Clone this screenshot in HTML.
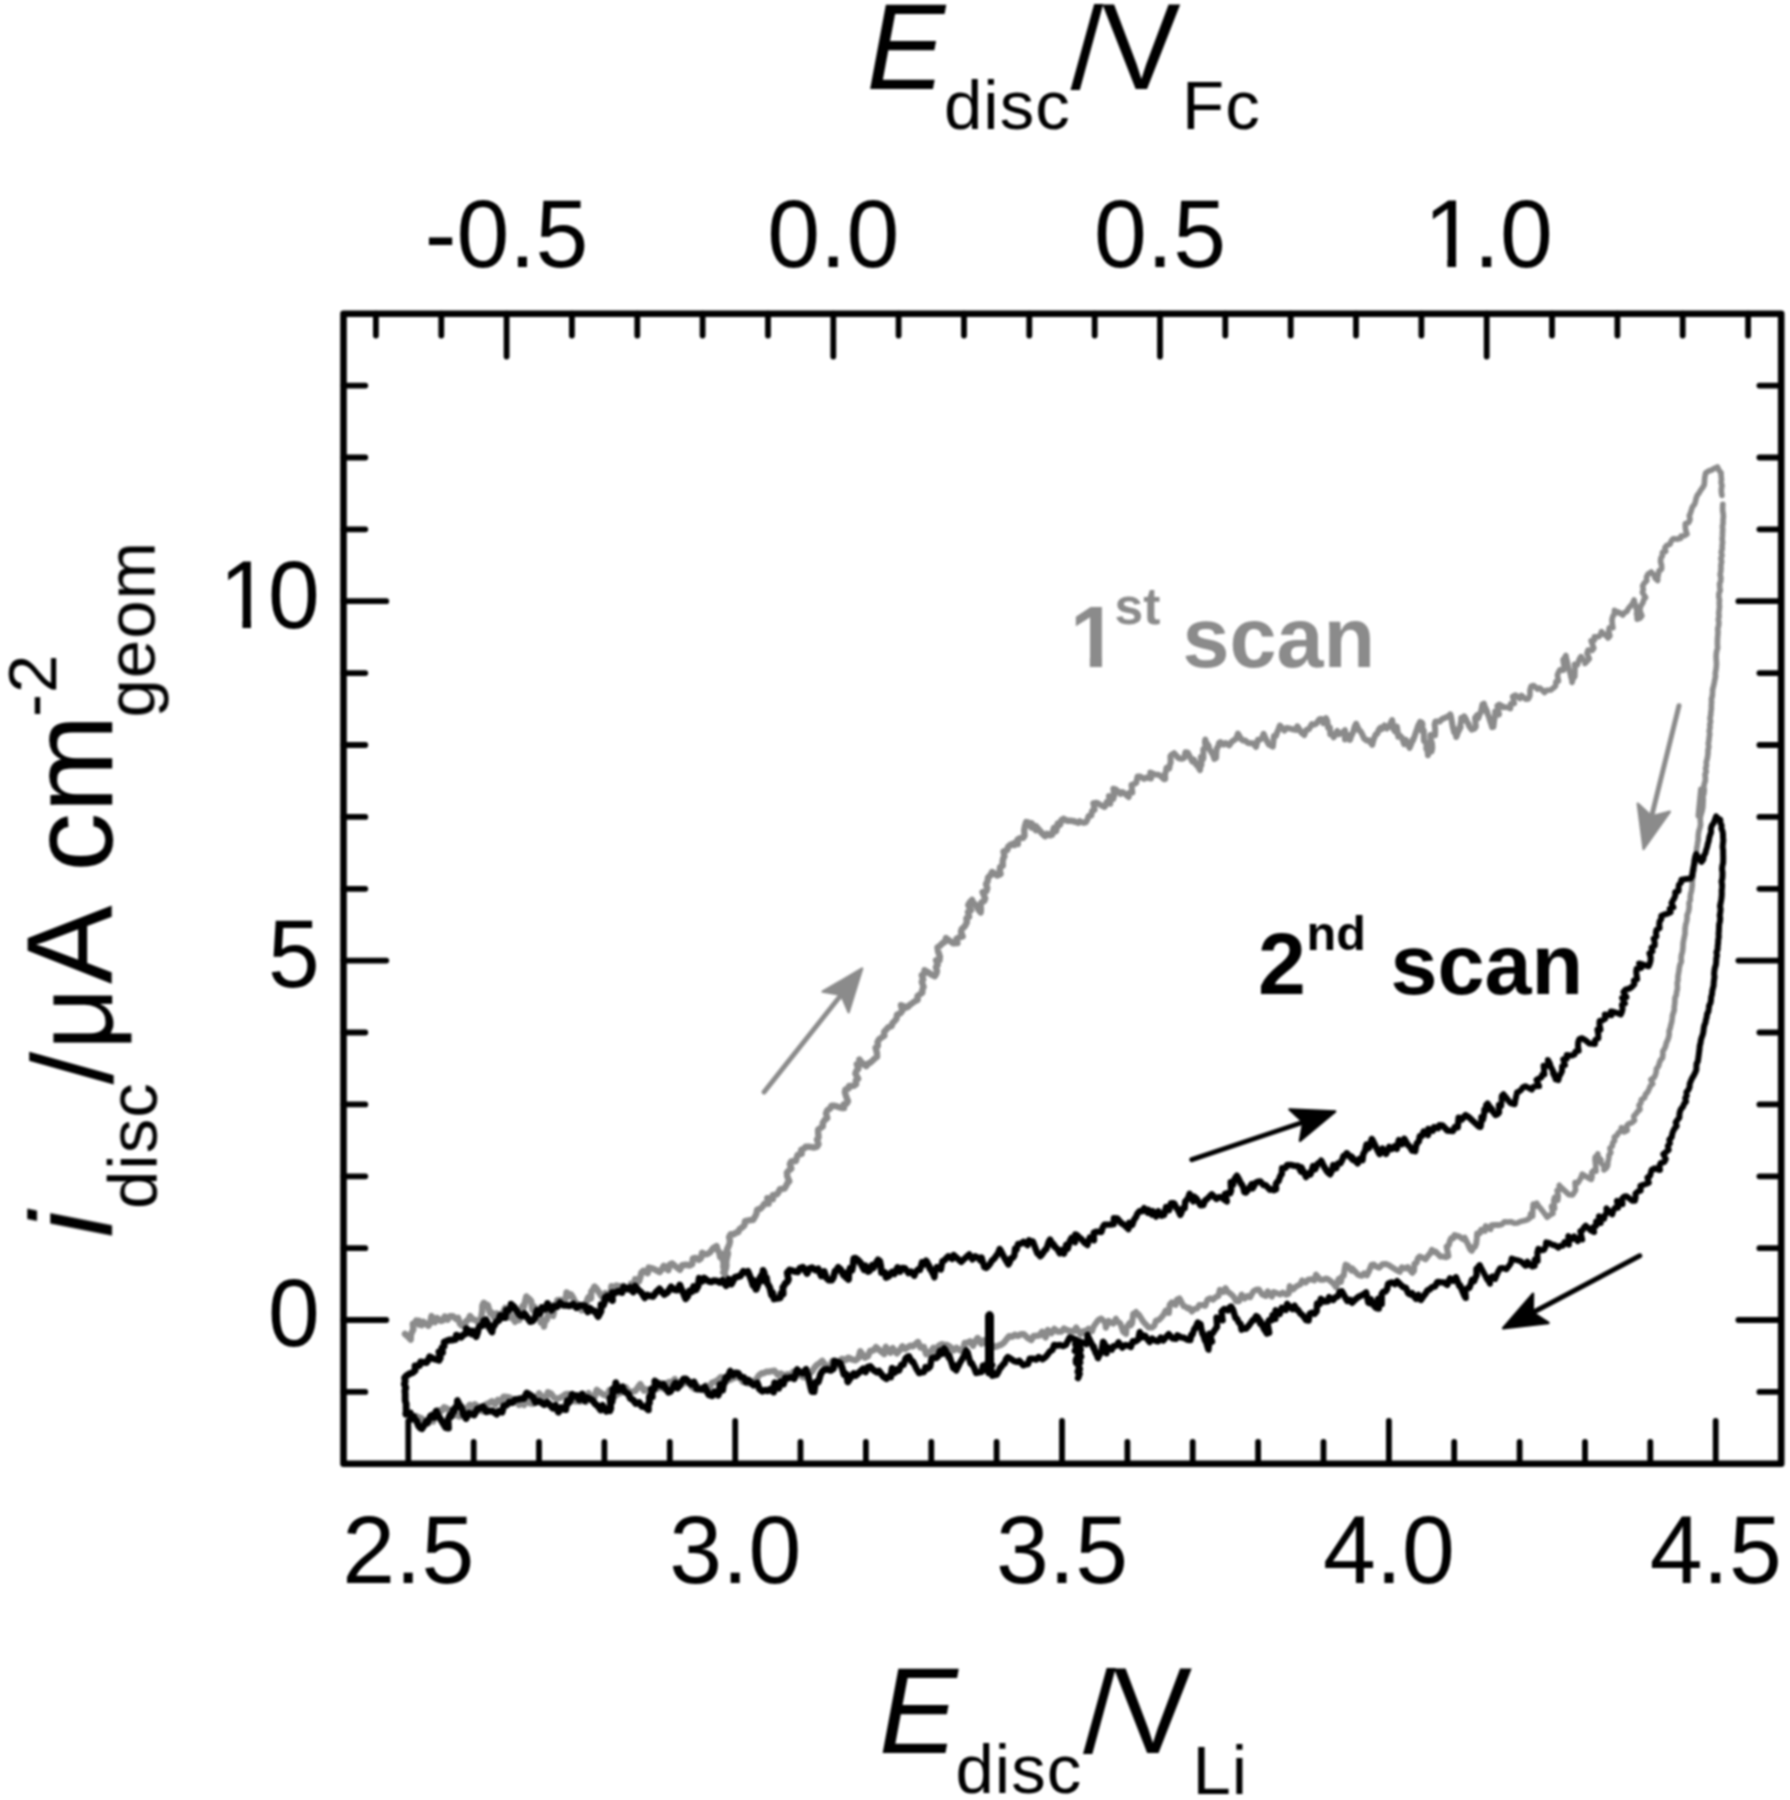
<!DOCTYPE html>
<html lang="en"><head><meta charset="utf-8"><title>Cyclic voltammogram</title>
<style>
html,body{margin:0;padding:0;background:#fff;}
body{width:1790px;height:1800px;overflow:hidden;}
svg{display:block;}
text{font-family:"Liberation Sans",Arial,Helvetica,sans-serif;fill:#000;}
.tk{font-size:95px;}
.tky{font-size:93px;}
.ti{font-size:118px;}
.sb{font-size:69px;letter-spacing:1px;}
.lb{font-size:86px;font-weight:bold;}
.lbs{font-size:50px;font-weight:bold;}
.it{font-style:italic;}
</style></head><body>
<svg width="1790" height="1800" viewBox="0 0 1790 1800">
<rect x="0" y="0" width="1790" height="1800" fill="#fff"/>
<defs><filter id="soft" x="0" y="0" width="1790" height="1800" filterUnits="userSpaceOnUse" color-interpolation-filters="sRGB"><feGaussianBlur stdDeviation="0.9"/></filter></defs>
<g id="all" filter="url(#soft)">
<defs><clipPath id="cr95" clipPathUnits="userSpaceOnUse"><path d="M-4.75 -76.00H58.90V-7.79H32.40V2.85H23.66V-7.79H-4.75Z"/></clipPath><clipPath id="cr93" clipPathUnits="userSpaceOnUse"><path d="M-4.65 -74.40H57.66V-7.63H31.71V2.79H23.16V-7.63H-4.65Z"/></clipPath><clipPath id="cb86" clipPathUnits="userSpaceOnUse"><path d="M-4.30 -68.80H53.32V-9.46H31.99V2.58H19.87V-9.46H-4.30Z"/></clipPath></defs>
<g id="curves">
<polyline points="405,1334 407.7,1336.4 410.7,1339.6 410.9,1334.7 412,1332.1 413.3,1329.6 412.8,1323.8 415,1323.1 416.2,1320.5 418.9,1324.3 419,1320.7 421.7,1325.2 423.2,1321.7 428.4,1325.7 430.2,1322.8 431.5,1316.1 435,1322.2 437,1318 438.8,1319.3 441,1321 442.9,1320.5 444.7,1316.5 447.7,1319.6 449.8,1316.1 452.9,1316.3 456.1,1318.9 458.1,1317.9 460,1323.7 462,1325.7 464.7,1326.4 466.1,1321.2 468.5,1319.6 470,1316 472.7,1319.4 474.6,1319.6 476.8,1321 478.9,1323.3 480.4,1320.1 481.4,1315.7 482.2,1311.7 482.4,1305.5 483.8,1302.8 485.9,1304.5 487.8,1305 490.1,1313.5 492,1312.7 493.9,1317.5 496.8,1313.5 499.2,1317 502,1314.5 505.2,1307.8 507.4,1309.5 509.6,1317.6 511.4,1315.7 515.1,1321.8 515.5,1319.2 517.4,1320.3 519.3,1320.1 520.4,1318.4 520.9,1311 522.2,1306.4 523.1,1305.5 523.5,1308 524.7,1303.2 526.3,1296.4 528.1,1298.2 529.5,1299.2 531.2,1301.1 532.5,1309.9 534.5,1306.8 536,1312.3 537.6,1314.3 539.4,1314.9 540.6,1322.4 542.8,1320 544,1326.6 545.1,1319.9 546.9,1319.8 547.7,1315.4 549.2,1313.2 553.1,1315.9 554,1311.8 553.8,1305.3 556.7,1305.5 557.3,1300.1 560.3,1299.9 563.9,1301.9 565.7,1298.5 566.6,1292.4 570.6,1296 570.9,1294.3 572.8,1297.2 575.9,1303.9 576.4,1302.9 577.9,1305.3 578.9,1306.2 581.5,1310.3 583.5,1309.8 584.5,1304 586,1304.2 587.4,1299.3 588.6,1297.1 591,1298.5 591.3,1291.7 593,1289.4 594.8,1287.2 594.5,1286.6 596.5,1288.6 601.5,1296.2 603,1298.1 603.7,1297 605.4,1293.1 608.4,1295.4 610.8,1294.8 611.5,1286.1 614.6,1290.2 616.4,1285.6 619.3,1286.3 621.7,1286.4 623.5,1285.7 627.1,1288.4 631.8,1291.1 631.1,1283.6 634.7,1284.8 635.2,1279.1 639,1281.3 640.3,1277.3 641.4,1272.6 643.5,1270.7 647.7,1273.2 648.7,1267.6 652.2,1268.3 656.1,1270.2 659.7,1272.1 661.9,1269.3 663.8,1265.8 668.3,1270.2 669.6,1264.8 672.1,1263.4 676,1266.8 679.9,1269.8 682.2,1265.1 685.9,1264.7 689.8,1265.5 692.2,1264.2 692.9,1258.4 695.7,1257.9 698.8,1259.9 700.9,1258.4 702.1,1252.7 705,1254.3 707.4,1254.1 710,1252.4 713.3,1248 716.6,1246.1 717.5,1249.7 719.2,1252.3 720.2,1257.1 723.6,1254 722.8,1260.1 723.4,1261.8 723.5,1267 723.3,1266.5 725.2,1275 723.2,1272.4 724.6,1271.3 725.8,1268.8 726.4,1265.6 726.2,1262.3 726.6,1259.3 727.3,1256.5 728,1253.6 726.8,1249.9 728.2,1247 729.4,1244.1 730,1241 729.1,1237 730.6,1234.3 734.2,1234.2 735.6,1232.9 738.3,1232.2 739.5,1229.1 742.4,1227.3 744.5,1225 745,1221.1 749,1220.3 753,1219.9 754.8,1217.1 756.4,1213.9 757.1,1209.8 760.6,1208.6 762.7,1206.4 764.4,1203.7 768.6,1203.6 767.3,1198.1 772.9,1199.1 772.9,1195.1 776.9,1194.4 778.7,1191.9 780,1189.1 784.5,1188.6 786,1186 787.3,1183.3 789.3,1181.2 787.2,1176.3 786.9,1172.6 788.9,1170.4 791.3,1168.6 789.9,1164 791.2,1161.4 795.9,1161 796.7,1157.8 797.7,1154.8 801.7,1153.9 801.2,1149.8 804.4,1148.3 805.7,1146.6 809.7,1146.8 814.4,1147.5 816.9,1146.7 818.5,1144.2 817,1139.6 818.6,1137.3 818.2,1133.4 818.1,1129.7 820.5,1128 822.8,1126.4 822.8,1122.7 824.6,1120.1 827.3,1118 826,1113.4 827.2,1110.4 830.1,1108.5 831.5,1105.7 833.8,1105.7 837.6,1106.7 841.6,1108 844,1108 843.7,1104.4 846.7,1103.6 848,1101.2 846.1,1096.4 844.9,1092.4 845.4,1089.5 848.7,1088.4 849.1,1085.9 854,1085.7 856.1,1084.1 855.8,1080.6 858.2,1078.7 855.4,1073.7 856.4,1070.9 858.3,1068.8 856.8,1064.3 861,1064.2 859.4,1059.6 860.5,1061 862.2,1063 866.3,1066.1 867.8,1063.9 870.6,1062.4 872.7,1060.5 874.7,1058.5 877.1,1056.7 876.9,1052.7 875.6,1047.7 877.9,1045.9 877.6,1042 879,1039.4 881.7,1037.5 884.4,1035.6 884.1,1032 886.2,1029.7 888.2,1027.3 891.6,1026 892.5,1023 894.8,1020.9 896.6,1018.5 897,1014.6 900.4,1013.2 902.4,1010.6 901,1005.2 906.7,1007.5 908.3,1006.7 909.2,1005.4 911.8,1003.5 914.5,1001.5 917.7,999.8 917.5,996 920.2,994.1 922.3,992.6 922.4,989.5 923.6,986.9 921.8,981.9 923.2,979.4 921.8,975.2 924.4,973.5 924.6,970.3 927,971.7 929.7,973.3 930.6,974.1 934.7,976.3 936.3,973.8 937,971 935.9,967.1 937.7,964.9 936.1,960.2 939.5,960.2 939.9,956.7 938.1,951.4 937.5,947.5 939.9,945.9 942.2,943.5 945.2,941.5 946,938 946.5,938.5 952.7,943 953,943.3 957.4,943 956.5,938.9 959.2,937.4 962.7,936.5 961,931.8 961.8,928.9 964.1,927.1 965.7,924.8 966.9,922.1 966.4,918.3 969.1,916.7 968,912 971,910.3 968.3,905 969.9,902.3 972.1,900 972.7,901.9 976.1,905.4 977.4,907.5 978.5,909.7 980.7,912.4 980.9,909 980.5,905.3 981.5,902.3 984.3,900.9 985.2,898.5 982.6,892.1 986.2,891.3 987.3,888.3 986,884 987.7,881.1 988,877.6 990.6,875.1 992,872 995.4,874.2 997.1,875.6 1000.6,874.1 999.8,870.3 1000.1,867.1 1002.8,865.7 1002.6,861.9 1003.1,858.8 1004.4,856.4 1003.5,851.4 1007.2,850.1 1008.2,846.8 1010.9,844.5 1014.4,845 1014.3,843.3 1017.9,843.9 1017.5,839.5 1020.2,838.1 1023.1,837.8 1024.5,835.9 1024.2,830.1 1025,826 1026.2,822.1 1028.1,822.5 1031.5,827.4 1031.5,823.1 1035.8,830.2 1036,826.2 1038.8,829.5 1041.6,832.9 1045,836.2 1047.1,833.8 1050,835.4 1052,834.8 1053.9,828 1056.1,831.2 1057.7,823.6 1060,824.7 1061.4,820.2 1063.5,818.8 1067,820.8 1069.5,820.7 1072,820.9 1075.1,821.7" fill="none" stroke="#8b8b8b" stroke-width="6.4" stroke-linejoin="round" stroke-linecap="round"/>
<polyline points="1075.1,821.7 1078.4,823 1079.8,821.1 1083.5,822.9 1085.9,822.3 1087.4,819.6 1088.6,816 1091.3,815.5 1092,811 1094.6,809.7 1093.3,803.3 1096.6,802.7 1100.8,805.1 1104.5,807 1105.6,805.4 1106.6,802 1110.3,803.7 1108.9,796 1113.3,798.9 1114.2,795.4 1113.3,788.7 1115.8,789.3 1120.5,794 1121.4,792 1123.4,792.4 1128.7,797.1 1129.3,792.7 1132.3,792.5 1131.5,784.8 1134.1,784 1136.2,782.8 1137.6,776.4 1140.2,776.6 1144.1,778.9 1146.8,777.5 1151,778.5 1150.3,772.6 1155,774.5 1158.6,774.8 1160.7,776 1164.1,779.2 1165.3,779 1165,774.1 1165.9,771.3 1166.5,767.7 1169.2,768.4 1169.8,765.1 1170.7,762.5 1170.4,756.1 1171.6,754.7 1174.1,753.2 1178.4,758 1181.6,758.8 1184.2,757.9 1185.5,752.3 1187.6,752.4 1192.4,761.7 1194,759.8 1196.2,764.7 1196.6,763.6 1198.4,767.2 1200,770.1 1200.4,766.5 1201.5,764.8 1200.9,756.9 1202.7,759.7 1203.4,758 1203.3,749.2 1204.1,748.6 1205.8,747.5 1204.9,742.5 1205.3,739.5 1205.8,741.8 1208.7,746 1207.7,746.4 1212.9,754.7 1213.8,757.2 1214.3,758.8 1216.1,757.8 1216.3,753 1216.8,748.2 1218.1,746.9 1219,743 1220.4,742.1 1223.6,744.6 1225.7,743 1229.3,745.4 1231.4,742 1233.8,740.3 1236.3,738.6 1237.9,733.6 1241.1,739 1243.1,740.5 1245.2,740.5 1247.5,742.7 1249.9,743.2 1253,743.2 1256,747 1257.9,739.7 1260,739.6 1262,738.2 1263.6,733.9 1265.1,737.3 1267.4,742.1 1268.8,744.5 1269.6,744.9 1272.8,746.6 1273.4,741.5 1273.9,736.1 1276,735.9 1277.2,732.3 1278.6,729.1 1279.9,725.5 1284.4,730.5 1286.8,727.9 1290.3,728.7 1293.7,729.6 1296.7,729.9 1297.3,726.2 1301.6,732.9 1304.2,735 1306.3,729.9 1309,729.1 1311.8,724.1 1314.2,724.7 1316.6,723.3 1319.4,719.3 1321.5,719 1323.4,723.2 1326,718.2 1327.3,721.1 1328.1,728 1329.9,727.6 1330.3,734.2 1332.4,734.2 1333.7,737.3 1337.3,731 1339.2,734.2 1341.8,733.1 1345,730.2 1345,739.6 1348.7,735.2 1350,739.9 1351.7,734.6 1352,734.6 1352.8,733 1355,725.7 1354.1,730.4 1356.1,723.7 1357.6,727 1359.3,730.5 1360.5,731.3 1361.8,733.5 1364.2,738.6 1366.8,740.5 1368.9,740.2 1372.2,744.9 1373.6,739.5 1375.7,734.4 1377.2,733.8 1379,729.3 1380.6,727.7 1381.9,729.1 1384.5,725.5 1386.8,728.5 1389.4,725.7 1392.1,720 1393.4,729.1 1395.1,731.5 1396.9,726.6 1398.3,736.8 1400,735.7 1402,737.8 1404.2,744.2 1405.8,739.8 1408,744.2 1409.6,747.9 1410.9,744.9 1412.6,739.7 1412.8,741 1414.4,736.7 1416,731.9 1418.5,724.8 1418.4,726 1420.1,721.8 1421.8,722.7 1422.5,724.1 1422.1,731 1423.8,730.6 1423.8,736.1 1423.9,740.8 1425.2,742 1426.5,743.4 1426.3,748.8 1427.5,750.5 1428,755.2 1428.8,751.3 1431.5,751.5 1432.3,747.9 1432,743.6 1430.4,738.3 1430.5,734.9 1435,735.3 1435.2,731.9 1435.1,728.3 1434.6,724.3 1435.5,721.4 1439.6,721.6 1441.8,719.3 1444.5,718 1447.4,716.7 1450.2,715.1 1450.3,714.3 1451.2,717.8 1452.8,727.2 1453.5,729.6 1454.1,732.3 1453.8,728 1455.2,731.1 1456.2,737 1457.2,734.7 1457.5,733.3 1460.6,727.1 1459.9,727.3 1461.2,720.5 1461.3,718 1463.6,720.1 1464.1,716.2 1466.2,719.5 1466.6,721.1 1468.7,724.3 1469,725.9 1471.6,729.6 1474.4,728.7 1475.8,726.8 1475.1,717.8 1477.2,715.1 1478.2,718.2 1479.8,713.7 1480.9,712.1 1482.5,704.4 1483.9,703.7 1484.1,705 1487.2,711.7 1486.5,711.3 1488.6,716.1 1490.9,721.2 1489.5,719.1 1491.1,723.7 1492.1,727.1 1493.4,726.8 1494.2,719.7 1495.1,716.3 1495.2,711.5 1499,714.5 1497.4,705.7 1499.3,704.5 1503.6,707.1" fill="none" stroke="#8b8b8b" stroke-width="6.0" stroke-linejoin="round" stroke-linecap="round"/>
<polyline points="1503.6,707.1 1506.6,707.2 1510.4,708.5 1510.6,703.9 1514.3,703.5 1512.6,696.4 1515.4,695 1519.9,698.5 1521.4,695.4 1525.7,699.2 1528.3,698.9 1529.9,695.8 1530,690.1 1531.1,686.2 1533.7,685.5 1537.3,689.1 1538.5,688 1539.9,688 1544.5,692.6 1546.7,690.3 1550.8,690 1553.3,688.1 1555.6,686 1555.9,681.8 1558.5,681 1557.4,675 1558.5,672.2 1560,669.8 1563.5,670.2 1564.2,667.4 1563,659.8 1564.7,657.7 1565.9,655.4 1566.3,657.8 1567.1,660.9 1567.7,663.8 1567.8,665.1 1569.5,671 1570.8,675.7 1570.8,676.5 1572.3,681.8 1572,682.3 1573.7,676.5 1573.2,678.4 1574.8,676.7 1575,668.7 1574.5,664.3 1577.4,664.7 1578.4,662 1579.4,659.1 1581,656.6 1582.6,659 1585.2,662 1585.1,663.5 1587.2,661.1 1589.3,658.9 1587,653.4 1588,650 1592.1,650.4 1593.8,648.3 1591.1,640.7 1594.3,640.3 1594.4,636.8 1599,636.6 1600.6,634.4 1601.5,631.7 1602.9,633.3 1607.1,636.6 1608,638 1609.9,635.9 1608.8,631.3 1609.2,627.9 1612.9,627.8 1612.2,623.3 1612,619.3 1612.8,616.4 1614.4,614 1614.5,610.4 1618.6,612.9 1618.9,612.2 1622.7,615 1624.7,612.5 1626.9,611.5 1628.2,608.7 1630.2,606.3 1632.2,604.1 1634.1,600 1634.6,602.4 1635.2,604.5 1636.4,609.1 1637.6,612.6 1636.5,613.2 1637.1,616.4 1637.2,619.2 1640,618.1 1641.9,615.8 1640,611.1 1640.1,607.9 1641.3,605.2 1642.9,602.8 1643.7,599.8 1645.6,597.4 1642.4,592.4 1643.3,589.4 1642.6,585.7 1644.3,583.1 1646.8,580.7 1646.5,577 1648,574.1 1651.2,572 1653.3,574.4 1656.2,577.1 1655,577.9 1657.7,580.6 1657.7,577.2 1658.4,574.1 1659,570.9 1661.6,569.1 1661.6,565.7 1660.5,561.3 1660.9,558.1 1662.4,555.7 1662.4,552.5 1665.7,551.3 1664.9,547.7 1666.6,545.6 1670.1,544.1 1671.2,541.1 1673.1,538.7 1677.9,539.1 1680.7,538.4 1681,536 1684.4,535.7 1687,534.1 1685.7,530.1 1685.3,526.7 1685.3,523.6 1688.8,522.5 1690,519.6 1689.3,515.6 1690.6,512.8 1691.5,509.7 1692.5,506.7 1694.6,504.2 1695.5,501.2 1696.2,498.1 1697.3,495.2 1699.3,492.7 1700.8,490 1702.7,487.6 1704.2,484.9 1704.5,481.9 1704.6,478.6 1705.1,475.6 1705.7,472.8 1708.8,471 1712.1,469.9 1714.7,468.2 1717.4,467 1719,470.4 1721.1,472.8 1721.1,476.2 1721.5,479.1 1721.1,482.8 1722,485.5 1721.3,489.2 1721.4,492.3 1721.9,495.4" fill="none" stroke="#8b8b8b" stroke-width="5.6" stroke-linejoin="round" stroke-linecap="round"/>
<polyline points="1722.8,504.3 1722.6,507.4 1722.6,510.6 1723.2,513.7 1723.4,516.9 1723,520 1723.1,523.1 1722.4,526.3 1722.7,529.4 1722.5,532.6 1722.4,535.9 1722.1,539.1 1722.6,542.4 1722.1,545.6 1722.2,548.8 1721.2,552 1722,555.3 1720.9,558.5 1721.7,561.8 1720.9,565 1721,568.2 1720.8,571.4 1720.1,574.5 1720.9,577.8 1720.7,580.9 1719.5,584.1 1719.8,587.3 1720.2,590.5 1718.9,593.6 1718.8,596.8 1719.5,600 1719.2,603.3 1719.5,606.7 1719.1,610 1718.7,613.2 1719.1,616.3 1718.3,619.5 1718.9,622.7 1718.6,625.8 1717.7,628.9 1718,632.1 1717.8,635.3 1717.5,638.4 1717.4,641.6 1717.4,644.7 1717.7,647.9 1716.7,651 1716.2,654.2 1716.1,657.3 1716.3,660.5 1716.5,663.7 1716.3,666.9 1715.9,670 1715.3,673.2 1715.5,676.5 1714.8,679.8 1714.2,683 1713.5,686.2 1712.6,689.5 1712.5,692.7 1712.3,696 1711.4,699.1 1711.6,702.4 1711.3,705.5 1711.4,708.7 1710.9,711.9 1710.7,715.1 1710,718.2 1710.6,721.5 1709.8,724.6 1710,727.8 1709.2,730.9 1709.7,734.2 1709.2,737.3 1708.9,740.5 1708.3,743.6 1708.8,746.9 1708,750 1708,753.1 1707.6,756.2 1707.1,759.2 1706.2,762.3 1706.5,765.4 1705.6,768.4 1706.2,771.6 1705,774.6 1705.4,777.7 1705.3,780.8 1704.3,783.8 1703.8,786.9 1704.3,790 1703.9,793.4 1703,796.6 1703.2,800 1703,803.4 1702.9,806.7 1702.3,810 1701.5,813 1700.6,815.9 1700.2,818.9 1700.4,822 1700.6,825.1 1699.8,828 1698.9,831 1698.4,833.9 1698.2,837 1698.2,840 1697.6,843 1697.2,846 1696.6,849 1696.7,852 1695.5,854.9 1695.1,857.9 1695.6,861.1 1695,864 1694,866.9 1694.2,870 1693.1,872.9 1693.2,876 1692.6,879 1692.2,882 1692.3,885 1691.9,888 1691.5,891 1690.6,894 1690.2,897 1690.3,900 1689,903 1689.2,906.2 1689,909.3 1688.2,912.3 1687,915.3 1687.1,918.4 1686.6,921.5 1685.7,924.5 1685.2,927.6 1685,930.7 1685,933.9 1684.3,936.9 1683.7,940 1683.1,943 1683,946.1 1682.8,949.3 1682.3,952.3 1681.4,955.3 1681.1,958.4 1681.4,961.6 1680,964.6 1679.3,967.6 1679,970.7 1678.4,973.8 1677.9,976.8 1678,980 1677.2,982.9 1677.4,986 1677.4,989.1 1676.6,992 1676.3,995 1675,997.9 1674.9,1001 1674.7,1004 1674.2,1007 1674.3,1010 1673.3,1013 1672.4,1015.9 1672.1,1019 1671.7,1022.1 1670.8,1025 1670.2,1028.1 1669.1,1030.9 1669.2,1034.2 1668.7,1037.2 1667.7,1040.1 1666.3,1042.9 1665.7,1045.9 1664.5,1048.8 1662.8,1051.4 1662.9,1054.7 1662.5,1057.8 1660.3,1060.3 1659.3,1063.2 1658.5,1066.2 1656.4,1068.7 1656.2,1071.9 1655.4,1074.9 1654,1077.7 1650.9,1079.7 1652.7,1083.8 1650.2,1086.1 1649.1,1089.1 1647.7,1092 1645.4,1094.5 1644.6,1097.7 1641.3,1099.6 1640.9,1102.9 1639,1105.3 1640,1109.5 1637.6,1111.5 1635.8,1114 1633.7,1116.2 1634.5,1120.4 1632.2,1122.5 1628.5,1123.8 1626.6,1126.3 1627.2,1130.4 1623.9,1131.9 1621.4,1127.6 1621,1130.9 1618.4,1132.7 1617,1135.3 1614.3,1137.1 1614.6,1140.7 1612.7,1142.9 1612.3,1146.2 1609.9,1148.2 1610.8,1152.7 1609,1155 1608.7,1158.6 1607.9,1161.8 1607.7,1165.5 1606.3,1168.1 1603.9,1169.9 1604.1,1168.2 1604,1166.1 1599.6,1161 1601,1160 1597.1,1155.4 1597.8,1153.8 1597.8,1157.5 1595.2,1157.1 1595,1159.4 1595.8,1167 1596,1171.2 1593.4,1170.5 1591.7,1172.5 1592.1,1176.6 1591.3,1179.5 1589.9,1178.8 1586.5,1176.6 1585.6,1176.4 1582.2,1174.2 1581.1,1177.5 1579.5,1180.3 1577.8,1183 1575,1182.6 1575.6,1190.3 1574,1192.8 1572.5,1195 1568.9,1194.6 1567.9,1193.9 1568.1,1193.9 1562.4,1188.6 1560.2,1186.5 1559.2,1185.3 1559.8,1189.5 1557.1,1190.5 1558.2,1195.9 1557.8,1200.2 1554.5,1197.5 1553.8,1200.7 1554.6,1208.6 1551.5,1206.3 1553,1213.5 1549.9,1215 1547.1,1217.3 1545.9,1215.5 1544.2,1213.2 1540,1207.7 1540.2,1208 1538.9,1206.5 1536.6,1203.2 1535.6,1206.2 1533.2,1204.3 1532.8,1209.1 1532.6,1216.1 1530.6,1213.8 1530,1217.9 1527.1,1219.9 1523.9,1220.8 1520.5,1221.4 1517.4,1222.9 1514.6,1223.3 1510.8,1221.7 1508.1,1222.1 1504.3,1221.8 1502,1224.4 1498.7,1225" fill="none" stroke="#8b8b8b" stroke-width="5.6" stroke-linejoin="round" stroke-linecap="round"/>
<polyline points="1498.7,1225 1495.1,1225.1 1491.6,1225.2 1490.5,1229.1 1485.6,1226.2 1484.8,1230.9 1481.1,1229.8 1479.7,1233.3 1477.2,1233.4 1476.8,1238.5 1476.2,1243.6 1474.9,1246.8 1473.1,1248.1 1471.7,1250.9 1469.8,1246.5 1470.4,1249.6 1469.3,1247.4 1468,1244.3 1466.7,1241.9 1464.7,1237.7 1462.9,1239.2 1459.4,1236.6 1456.4,1235.6 1454.5,1235 1453.2,1238.3 1451.4,1238 1450,1240.7 1448.7,1245.3 1446.6,1246.5 1448.4,1256.1 1446.4,1257.2 1443.1,1256.6 1441.7,1256.5 1440.5,1256.6 1435.6,1251.6 1434.7,1252.1 1431.9,1249.9 1430.2,1253.3 1427.9,1256 1425.6,1259.3 1421.9,1257.6 1419.6,1256.5 1417.8,1258.5 1416.5,1262.8 1414.4,1263.7 1414,1270.8 1412.3,1272.8 1407.7,1267.1 1405.1,1268.5 1401.8,1267.3 1399.8,1271.8 1396,1269.8 1392.3,1267.4 1388.6,1265 1385.4,1263.9 1382.4,1264.2 1379.2,1267.7 1376,1266.5 1373.8,1264.5 1371.5,1265 1369,1271.1 1366.9,1275.3 1364.2,1273.3 1362,1275.8 1360,1275.5 1358.1,1274.8 1355.4,1271.9 1352.3,1268.5 1351.5,1270.6 1347.9,1265.8 1345.6,1264.7 1344.7,1268.9 1343.7,1275.7 1342,1276.7 1340.9,1282 1338.7,1278.9 1337.3,1282.4 1336.3,1287.4 1333.4,1283.6 1330.8,1281.2 1328.3,1279.4 1326.1,1278.5 1323.4,1279.8 1320.3,1279.7 1316,1274.6 1314.3,1280.4 1311,1279.2 1308.1,1279.8 1305.5,1282.6 1302.1,1280.4 1300.3,1284.5 1297.8,1285.5 1295.4,1287.1 1293.2,1289.3 1289.7,1286.3 1288.7,1293.7 1286.2,1294.7 1282.7,1292.5 1280.2,1294.5 1277,1293.3 1273.7,1292 1271.9,1296.6 1267.7,1291.4 1265.7,1296 1262.3,1294.6 1258.8,1289.5 1256,1289.8 1253.2,1291.6 1250.1,1297.2 1247.4,1296 1244.6,1298.5 1241.6,1294.7 1239,1301.2 1236.1,1301.3 1233.8,1296.8 1231.8,1294.8 1229.8,1293.2 1228,1292.2 1225.5,1288.1 1223.5,1292 1219.8,1289.8 1218.4,1296 1215.6,1297.1 1213.1,1299.7 1210,1298.3 1207.4,1299.7 1205.3,1305.8 1202.4,1305 1199.3,1305 1197.2,1308.6 1194.2,1309 1191.9,1311.5 1189.1,1307.8 1187.6,1308.4 1185.3,1306.4 1183.7,1306.3 1179.5,1298.4 1176.9,1299.7 1175.6,1304.9 1171.7,1302.3 1169.7,1304.7 1168.9,1313 1165.7,1310.6 1163.6,1314.7 1161.2,1317.6 1158.7,1320 1155.9,1320.7 1154.4,1325.6 1151.9,1327.6 1148.6,1327.5 1146.6,1325.1 1145.2,1323.9 1143.4,1321.8 1138.7,1314.3 1138.4,1315.3 1136,1312 1134.6,1313.9 1133.2,1313.7 1132.1,1323.4 1130.6,1325.3 1130,1322.6 1128.3,1324.9 1126.6,1327.5 1126,1333.9 1124.6,1332.8 1123.3,1331.9 1120.3,1323.5 1119,1322.4 1117.6,1321.9 1115.9,1318.7 1113.6,1323.6 1111,1322.7 1108.6,1320.9 1105.9,1327.7 1105,1322 1104.1,1321.4 1101.2,1318.5 1098.4,1319.9 1096,1323.1 1093.8,1326.3 1092,1331.2 1088.6,1328.6 1086.1,1330.6 1083.1,1331.2 1080.6,1334.3 1076.2,1327.4 1074,1331.1" fill="none" stroke="#8b8b8b" stroke-width="6.0" stroke-linejoin="round" stroke-linecap="round"/>
<polyline points="1074,1331.1 1070.9,1331.1 1067.7,1330.5 1064,1328.6 1061.3,1331.6 1057.9,1331.6 1054.3,1329 1051.4,1333.1 1047.8,1330.2 1045.6,1337.4 1042.1,1331.8 1039.6,1335.4 1036.7,1335.7 1033.7,1335.9 1031.2,1340 1027.8,1338 1023.9,1334.2 1020.8,1334.3 1018,1335.9 1014.8,1334.7 1012.1,1336.7 1009.2,1336.2 1006.5,1339.3 1003.8,1342.9 1001,1344.7 998.2,1345.8 995.7,1346.7 993,1346.8 988.5,1338.3 987.3,1344.7 983.5,1340.3 981.4,1343.7 977.7,1338 975.4,1341.1 973,1345.7 970.1,1341.4 967.5,1342.6 964.7,1343 962.9,1351 960.1,1350.4 956.5,1347.8 953.9,1350.3 950.3,1347 947,1345 944,1344.9 941.5,1344.2 938.8,1345.8 935.9,1350.9 933.4,1347.8 930.6,1351.6 928,1353.5 926.2,1354.2 923.9,1346.9 922.1,1347.2 920.4,1347.5 918,1342 915.5,1344.2 912.9,1346.4 910.3,1345.7 907.7,1347.4 905.1,1348.9 902.4,1346.3 899.8,1350.2 896.9,1353.4 892.7,1348.2 890.4,1352.6 885.8,1347 884.2,1354.1 880.2,1350.8 876,1347.2 873.4,1350.4 870.2,1350.9 867.9,1356.1 864.9,1357.7 860.3,1351.4 858.4,1358.1 855.6,1360.3 852.1,1359.5 848.3,1357.7 845.6,1360.2 841.8,1358.9 839.7,1363.2 836.8,1365 832.3,1361.2 830.5,1366.1 827.8,1368.3 822.2,1360.9 819.6,1363.2 816.8,1364.9 814.3,1367.9 811.9,1371.8 809,1373.1 806.4,1375.9 803.4,1377.2 800,1375.3 796.4,1371.9 793.3,1371.6 790.6,1375.4 787.2,1374.1 784.3,1375.9 780.8,1373.4 777.9,1375 774.5,1370.8 772,1371.1 769.5,1371.7 766.7,1371.6 764.1,1373 761.3,1373.5 758.7,1375.5 756.2,1379.8 753.5,1381.1 750.7,1381 748.2,1383.4 745,1380.1 742.7,1381.9 738.7,1375.5 736.4,1377.3 734,1377.9 730.9,1379.4 727.8,1380.5 724.7,1383 720.9,1377.1 717.9,1380.2 715,1381.7 712,1382.7 709.1,1388.1 706,1385.6 703.2,1389.9 700.1,1388.8 697.3,1386.2 694.8,1388.9 692.2,1387.3 689.2,1382 686.7,1383.1 683.8,1380.3 681.4,1385.3 678.3,1386.3 674.8,1379.1 672,1382.4 669,1382 666,1383.8 663.3,1388.7 660.1,1383 657.6,1388.8 654.2,1386.9 652.3,1393.5 649.6,1392.7 646.3,1389.2 644,1390.6 640.3,1384.1 638.2,1387 635.4,1391 632.2,1391.6 629.1,1392 625.7,1387.4 622.8,1389.3 619.9,1393.3 616.8,1394.3 614,1397.3 609.4,1390.2 607.4,1395.8 603.8,1394.9 600,1392.3 596.7,1390 594.6,1397.1 591.7,1399.3 588.5,1393 585.9,1402 582.8,1396.8 580.1,1401.6 577.2,1401.2 574.4,1401.4 571.5,1398.8 568.3,1394 565.5,1394.2 562.8,1396.3 560.1,1397.8 557.2,1398.8 554.2,1397.8 550.9,1393.4 547.9,1392.3 545.1,1400.2 542,1396.7 539,1393.3 536.1,1401.7 533.2,1403.7 530.2,1403.4 526.7,1399.3 524.1,1405 520.9,1400.9 519,1404.9 515.3,1399.1 513.5,1402 509.9,1397.6 506.6,1396.9 503.6,1396.7 501.1,1401.6 497.9,1399.9 495.3,1404.4 492,1401.3 489,1403.2 485.9,1404.2 484.4,1411.6 481.7,1411.1 478,1406.7 474.9,1404.3 473.2,1408.9 469.8,1404.8 467.2,1407.8 465.1,1413.5 462.2,1414.4 459.6,1416.6 456.2,1415.2 452.3,1409.6 450,1410.9 446.9,1408.5 444,1407.3 442.1,1410.5 439.3,1410.3 437.1,1412.7 434.7,1414.3 433.1,1421.5 430,1416.6 428.2,1423.5 425.3,1421.7 422.1,1418.8 419.1,1417.5 416,1416.1 414,1418" fill="none" stroke="#8b8b8b" stroke-width="6.4" stroke-linejoin="round" stroke-linecap="round"/>
<line x1="1700.6" y1="789" x2="1698" y2="816" stroke="#8b8b8b" stroke-width="5" stroke-linecap="round"/>
<polyline points="406,1414 406.2,1410.7 406.1,1407.3 406.2,1404 405.2,1400.6 405.2,1397.3 405.2,1393.9 404.9,1390.7 405.8,1387.8 404.3,1384.1 405.2,1381.2 404.6,1377.8 406.6,1375.6 409.4,1373.8 412.8,1372.6 415.2,1370.4 415,1366 419.5,1365.5 420.6,1361.9 426.3,1362.7 428.2,1360 429.7,1356.8 433.5,1358.8 436.1,1359.4 439,1360.4 440.3,1357.9 438.9,1351.9 442.6,1352.5 441.9,1347.6 444.2,1346.3 444.1,1342.2 446.7,1341 449.5,1340 452.7,1340 455.6,1339.4 456.4,1335.1 461.3,1337.3 463.2,1334.8 466,1333.7 466.4,1328.7 468.7,1330.4 471.7,1334 472.6,1331 476.2,1336.7 477.5,1332.9 478.6,1328 480.3,1325.6 482.7,1325.5 483.7,1320.6 485.9,1319.8 487.9,1323.8 488.6,1325.3 488.8,1326.7 492,1332 492.6,1327.8 494.5,1325 496.3,1321.9 498.8,1320.5 500.2,1315.4 502.9,1317.7 505.1,1317.7 506.3,1310.2 508.7,1310.4 510.7,1307.7 511.1,1304.2 513.9,1306.7 518.4,1313.7 520.9,1315.8 522.8,1315.9 524.4,1313.6 527.4,1317.5 530.2,1321.6 532.7,1321 534.9,1317.9 537.1,1310.2 539.9,1313.5 541.9,1307.5 545.2,1309.2 547.5,1303.5 551.6,1310.1 554.1,1306.2 557.3,1306.6 559.9,1302.7 563.4,1305.4 566.6,1305.4 569.9,1305.8 573.4,1304.1 576.5,1307.7 580,1305.3 582.6,1305.6 585,1305.9 587.8,1311.9 589.9,1308.3 592.5,1310.8 594.7,1310.9 598.1,1316.6 599.6,1313.9 601,1311.2 601,1304.6 603.5,1305.2 604.6,1302 605.1,1297.5 607.1,1296.1 612.5,1300.5 612.2,1292.7 615.5,1292.8 618.3,1291.2 622,1292.5 623.6,1287 627.2,1289 629.9,1287.4 633.3,1292 635.2,1286 638.4,1290 641.4,1292.5 644.7,1297.8 647.2,1295 650,1295.9 653,1296.5 656.1,1292.2 659.5,1288.9 662,1292 664.3,1294.5 667.7,1292.1 671.1,1286.9 674,1289.6 677.3,1290 679.8,1285 681.4,1289.5 682.1,1290.4 683,1292.3 684.3,1295.4 685.7,1298.8 687.7,1296.2 689.4,1291 691.9,1291.6 693.7,1286.4 696.1,1289.8 698.1,1285.9 699.2,1278.3 702.3,1281.1 704.1,1278 707.9,1280.9 711.2,1281.9 713.5,1280.7 716.4,1280.8 719.8,1282.5 722.3,1280.4 726.2,1285.6 728.8,1279.2 731.5,1284 734.9,1277.3 737.7,1276.6 740.4,1275.9 743.3,1271.3 745.9,1272.4 747.9,1271.4 749.2,1274.5 751.7,1281 752.9,1285.1 752.9,1280 754.7,1287.3 756.3,1288.4 756.2,1289.4 758.7,1282.7 757.3,1283.4 759.8,1278.2 762.8,1273.1 763.1,1270.5 764.3,1273.1 763.7,1280.7 766.4,1277.6 767.3,1283.4 768.6,1285.3 769.9,1288 771.5,1294.9 772.6,1292.6 774,1299 777,1298.5 780.2,1297.9 781,1293.4 783.2,1293.8 782.8,1287.3 784.2,1285.6 785.4,1283.1 787.3,1282 788.5,1279.6 787.2,1272.7 789.6,1269.9 794.1,1271.3 797.9,1272 800,1268.1 802.9,1267.1 807.2,1273.5 809.2,1268.7 812.1,1267.7 815.6,1270.1 818.2,1268.9 821.4,1276 824.2,1271.5 826.4,1277.9 828.7,1280.1 831.7,1280.2 833.3,1277.7 835,1271.3 836.6,1270.1 838.3,1267.4 840.1,1270.2 840.5,1269.2 843.6,1275.3 843.3,1272.5 845.7,1277.2 848.6,1279.5 848.8,1272.6 850.1,1268.3 851.9,1270.2 853.1,1264.7 853.8,1258.3 855.4,1258.1 857.8,1260 860.4,1262.6 864.1,1269.7 865.4,1265.8 867.9,1271.5 869.4,1271 872.2,1265.3 873,1268.1 875.4,1264.2 878,1259.9 879.7,1261 880.7,1265.7 881.5,1272.5 883.3,1272.3 884.9,1272.3 886.1,1277.5 888.8,1276.2 891.9,1272.1 894.3,1273.8 897.6,1267.5 900,1271.4" fill="none" stroke="#000" stroke-width="6.8" stroke-linejoin="round" stroke-linecap="round"/>
<polyline points="900,1271.4 902.4,1268 905.1,1268.2 908.5,1273.2 910.9,1271.5 914.3,1275.7 916,1271.6 918,1269.5 920,1269.9 922,1262.2 924.1,1264.5 926.1,1260.6 927.2,1262.1 929.9,1269.1 928.4,1264.4 932.6,1273.4 931.6,1270.5 934.4,1277.4 935.1,1270.5 936.9,1267 939.1,1268.3 940.9,1269.5 942.4,1261 944.3,1260.5 946.1,1258.5 948.3,1256.2 952.1,1258.9 953.7,1255 957.9,1258.9 961.2,1261.9 963.9,1259.3 966.6,1256.8 969.3,1254.5 972.5,1259.4 975.2,1256.2 978.2,1257.8 980.4,1260.6 981.5,1257.5 984.3,1267.1 986.1,1267.9 987.9,1266.5 989.7,1264.3 991.9,1260.7 994,1258.8 996.1,1256 998.1,1253.1 999.7,1249 1000.4,1250 1004.1,1257.2 1005.2,1259 1004.6,1258.2 1008.3,1264.5 1009.8,1262 1010.9,1258.4 1013,1257.7 1014.3,1255.8 1015.1,1248.7 1016.6,1249.6 1018,1244 1020.8,1243.8 1023.5,1241.7 1027.5,1245.1 1029.1,1240.3 1032.6,1241.9 1032.9,1241.7 1035.1,1247.4 1037,1252.4 1037.5,1253.6 1038.7,1253.9 1040.2,1256.2 1041.5,1255.2 1043.1,1252.2 1043.3,1252.7 1044.8,1249.9 1046.3,1249.3 1048.6,1242.1 1050,1239.6 1051.8,1242.9 1054.2,1246.6 1053.3,1244.1 1055.5,1247.3 1057.2,1248.9 1059.8,1253.3 1061.7,1250 1064.1,1253.6 1066.2,1244.7 1067.7,1248.8 1069.9,1240.9 1071.6,1237.9 1075.1,1242.2 1075.4,1234.4 1077,1235.2 1079.3,1237.5 1081.4,1239.1 1085.1,1243.3 1087.4,1245 1088.5,1241.1 1089.8,1237.6 1094,1240.2 1093.7,1232.7 1096.2,1231.6 1098.8,1231.9 1101.4,1232 1102.6,1227.7 1104.3,1224.8 1107.6,1224.6 1110.7,1224.5 1113.7,1224.1 1113.9,1218.3 1117.2,1218.4 1121,1222.9 1123.1,1224.1 1125.6,1226.2 1128.4,1229.1 1129.3,1222.8 1132.3,1224.8 1133.9,1219.9 1135.9,1217.3 1137.6,1213.3 1139.6,1211.1 1142.2,1211.2 1144.1,1208.2 1147.8,1212.7 1148,1209.6 1151.9,1214.5 1152.6,1211.1 1156.1,1216.6 1158.3,1211.3 1161.4,1215.7 1164.1,1214.9 1166.1,1207 1169.1,1210.1 1170.9,1203.3 1173.7,1203.2 1174.2,1203.5 1176.8,1208.5 1177.2,1208.4 1180.3,1214.8 1181.6,1212.1 1182.7,1208.2 1184.7,1208.1 1185.2,1201.4 1186.9,1199.7 1188.4,1197.4 1189.6,1193.9 1193.3,1201.3 1194.1,1196.6 1196.5,1198.7 1200.4,1205.2 1203.3,1205.1 1204.9,1200.6 1207.3,1198.9 1209.5,1196.6 1211.8,1194.4 1216.5,1199 1218.7,1197.3 1221.3,1197.3 1226.9,1201.3 1225.1,1193.9 1227.7,1193.2 1230.2,1193.2 1231.1,1190.4 1230.7,1182.3 1233.1,1184.7 1233.9,1180.3 1235.3,1177.9 1236.8,1175.7 1238.6,1178.7 1239.2,1179.9 1241,1183.9 1241.7,1184.2 1243.2,1187.3 1244.4,1192.2 1245.9,1192.5 1248.7,1189 1251.8,1184 1252.6,1188.4 1255.8,1182.6 1258,1181.7 1260.4,1181.5 1263.5,1185.1 1265.7,1185.2 1270,1189.7 1271.7,1189.3 1274.1,1190.2 1276.1,1189.3 1275.8,1184.1 1277.1,1182 1278.7,1181 1279.5,1178.1 1280.6,1175.5 1281.8,1174 1282.1,1168.2 1285.4,1168 1287.2,1165 1290.6,1164.9 1294.6,1165.9 1298,1166 1301.1,1171.7 1301.2,1167.1 1303.9,1172.2 1306,1177.1 1308.4,1173.3 1310.4,1174.4 1313.1,1166 1315.3,1169.1 1317.6,1163.7 1320,1162.3 1321.2,1160.7 1323.7,1166 1327.1,1171.5 1328.8,1173.3 1330.1,1174.3 1331.8,1170.9 1333.2,1165.1 1336.2,1168.2 1337.9,1163.5 1340.3,1163.4 1342.2,1159.9 1343.7,1155.7 1346.7,1155.4 1346.8,1153.2 1352.9,1159.9 1351.3,1156.4 1357.6,1163.4 1358.2,1162.3 1359.6,1158.8 1362.5,1160.1 1363.3,1153.9 1365,1151.1 1366.5,1144.4 1368.9,1148.1 1370.5,1143.9 1371.7,1138.9 1372.4,1139.8 1374.9,1145 1378.2,1151.7 1379.5,1154.1 1380,1153.9 1382.4,1148.5 1386.1,1153.9 1389.3,1146.9 1391.9,1149 1394.4,1146.4 1396.8,1148.9 1398.9,1140.1 1402.2,1144.1 1404.3,1140.9 1404.4,1138.8 1408.2,1145.5 1409.3,1145.9 1412.3,1150.7 1415.2,1151.2 1415.9,1146.6 1417,1143 1418.9,1141.5 1419.8,1136.2 1422,1135.9 1423.7,1131.5 1428,1135 1428.4,1128.9 1432.8,1130.8 1434,1127.2 1438.1,1128.2 1439.4,1125.3 1442.5,1125.4 1447.3,1130.5 1450.2,1130.9 1453,1131 1454.9,1126.9 1457.7,1127.3 1458.7,1117.6 1461.9,1119.4 1464.2,1116.6 1465.7,1115.1 1468.1,1116.6 1471,1119.2 1474.8,1122.8 1478.5,1126.3 1480.4,1126.8" fill="none" stroke="#000" stroke-width="6.4" stroke-linejoin="round" stroke-linecap="round"/>
<polyline points="1480.4,1126.8 1481.2,1123.8 1481.3,1116.9 1483.1,1119.7 1484,1115.1 1484.3,1109.5 1486.4,1110.4 1486,1105 1487.6,1103.4 1489.4,1106.2 1492.4,1109.7 1490.9,1109.4 1494.1,1113.3 1495.5,1115.1 1497.6,1114.4 1499.2,1112.5 1498.8,1105.1 1501.2,1105.8 1501.6,1100.7 1501.8,1095.9 1503.5,1094.3 1506.2,1097.7 1509.4,1101.8 1510.5,1103.1 1510.9,1103.4 1514.7,1104.2 1515.3,1100.2 1516.2,1096.5 1517,1092.5 1519.3,1091.3 1521.4,1089.7 1523,1087.2 1525.3,1086.2 1531.8,1089.6 1532.7,1087.2 1535,1086.2 1539.1,1086.1 1536.5,1079.8 1539,1078.4 1541.3,1077.4 1542.3,1074.6 1544.4,1074.4 1543.6,1065.7 1545.8,1066.1 1548.2,1065.5 1547.9,1059.9 1550.1,1064.2 1550.1,1065.5 1552.4,1069.9 1554.6,1074.3 1553,1073.2 1555.8,1078.8 1555.7,1079.4 1558.4,1080.1 1559.1,1076.4 1560.5,1074.3 1562,1071.2 1562.1,1066.3 1565,1065.1 1563.2,1059.3 1566.8,1058.7 1566.8,1054.9 1571.6,1055.6 1574.5,1054.5 1575.5,1051.4 1578.7,1050.9 1578,1046 1578.2,1042 1579.3,1039.2 1582.2,1038.2 1584.1,1039.5 1585.2,1040 1589.5,1043.6 1594.9,1044 1595.2,1039.9 1598.4,1038.4 1598.3,1034.6 1597.4,1029.5 1600.5,1029.7 1599.4,1024.2 1599.6,1021 1602.3,1020.3 1605.3,1018.6 1604.8,1014.4 1611.4,1015.3 1611,1011.4 1613.3,1011.8 1616.6,1012.8 1620.7,1014.5 1621.9,1011.9 1622.6,1008.9 1621.9,1004.7 1624.9,1003.4 1622.1,997.9 1626.5,997.3 1623.4,991.9 1625.4,989.7 1629.6,988.5 1632.3,986.5 1634.4,984.2 1633.8,980.5 1637.2,979.2 1636.6,975.5 1636.2,971.8 1636.6,968.7 1641.2,968.1 1639.1,963.4 1641.6,964.1 1644.8,965.1 1648.6,966.3 1649.8,963.5 1650.6,960.5 1650.7,957.2 1649.4,953.3 1652.5,951.4 1651.5,947.5 1654.7,945.7 1654.7,942.3 1653.6,938.6 1656.4,936.5 1655.9,933 1656.4,929.9 1659.6,928.1 1659.2,924.6 1659.6,921.5 1661.3,919 1661.3,915.7 1664.4,914.5 1667.8,913.6 1670.6,912.3 1669.7,908.7 1673.4,907.3 1671.5,903.2 1672.8,900.6 1674.3,898.2 1675.3,895.5 1675.2,892.1 1678.6,891.1 1678.6,887.8 1678.9,884.8 1681,882.7 1681.4,879.7 1686,879 1690.6,878.5 1692,876 1692.5,872.8 1693,869.6 1693.6,866.5 1694.2,863.4 1694.5,860.1 1695.2,857 1696.2,854.1 1698,856.7 1699.5,859.1 1701.6,861.8 1703.4,859.2 1703.8,855.9 1705.4,853.2 1706.1,850.1 1707.1,847.1 1707.8,843.9 1708.7,841.1 1709.2,837.9 1710,835 1711.1,832.3 1710.9,828.7 1711.7,825.8 1713.7,823 1714.9,819.8 1716.1,816.4 1717.9,818.4 1720.3,819.6 1720.4,823 1721.6,825.4 1721.4,828.6 1722.5,831.2 1723,834 1723,837.3 1723.3,840.4 1722.9,843.8 1722.6,847 1723.1,850.2 1723.1,853.5 1723.2,856.7 1723.2,860 1723.1,863.1 1722.3,866.1 1722,869.2 1722.5,872.3 1722.5,875.4 1722.3,878.5 1721.5,881.5 1722.1,884.6 1722,887.7 1721.7,890.8 1721.8,893.9 1721.6,896.9 1721.2,900 1720.6,903.1 1720,906.1 1720.6,909.2 1720.3,912.3 1719.7,915.4 1720.2,918.5 1719.9,921.6 1719.1,924.6 1719,927.7 1718.9,930.8 1718.6,933.9 1718.8,937 1718.2,940 1718.1,943.1 1717.7,946.2 1717.6,949.3 1716.4,952.3 1717,955.4 1716.3,958.5 1716.2,961.6 1715.9,964.7 1714.9,967.7 1714.4,970.7 1714.1,973.8 1714.5,976.9 1714,980 1713.7,982.9 1713.6,985.8 1712.8,988.6 1712.2,991.4 1712,994.3 1711.1,997.1 1711,1000 1710.5,1002.9 1709.1,1005.6 1708.8,1008.6 1708.4,1011.5 1707,1014.2 1706.7,1017.1 1705.9,1020 1705.4,1022.9 1704.2,1025.7 1703.7,1028.6 1703.4,1031.6 1702.8,1034.5 1701.7,1037.3 1700.9,1040.1 1700.5,1043.1 1699.7,1045.9 1699.5,1049 1699.1,1052 1698.7,1055.1 1698.3,1058.1 1697.9,1061.1 1696.5,1063.9 1696.4,1067 1696.3,1070.1 1695.1,1072.9 1693.7,1075.6 1692,1078.3 1690.8,1081.1 1689.7,1083.9 1689.6,1087 1688.4,1089.8 1686.4,1092.2 1686.8,1095.5 1685.3,1098.1 1686,1101.6 1684,1104 1683,1106.7 1681,1109 1679.9,1111.6 1679.4,1114.4 1679.4,1117.5 1677.5,1119.8 1675.7,1122.4 1676.7,1126 1674.6,1128.5 1673.1,1131.2 1672.2,1134.1 1671.7,1137.2 1669.3,1139.7 1669.9,1143.4 1667.8,1145.9 1668.7,1149.9 1666.1,1152 1663.3,1154.1 1665.8,1159 1664.5,1161.8 1660.5,1163.2 1659.4,1166.1 1660,1170 1657.8,1169.5 1654.4,1168.3 1651.6,1169.9 1650.8,1172.9 1650,1175.9 1647.4,1177.5 1648.8,1182.7 1645.9,1184 1643.1,1184.9 1640.4,1185.9 1640.7,1190.7 1637.6,1191.7 1635.5,1193.5 1635.6,1197.6 1634.9,1200.8 1632.5,1200.8 1626.6,1196.3 1624.3,1196.5 1622.2,1198.4 1622.5,1204.2 1616.9,1200.8 1618.1,1207.7 1614.8,1208 1613.2,1210.7 1612.3,1214.4 1611.4,1213.6 1607.7,1209.7 1606.4,1208.4 1606.7,1212.9 1604.8,1215.3 1604.1,1218.8 1598.9,1216.3 1600.7,1223.1 1596.1,1221.5 1596.1,1226 1593.2,1227 1594.1,1232.1 1592.5,1231.3 1590.6,1230.3 1585.7,1225.6 1583.8,1227.5 1582.6,1230.2 1580.3,1231.3 1582.2,1239.6 1578.9,1238.2 1577.7,1241.2 1574.1,1236.3 1572.3,1239 1568.3,1236.2 1568.9,1244.7 1564.5,1242.1 1563,1245.7 1560,1245.9 1558.4,1247.6 1554.8,1245.3 1552.1,1244.7 1548.9,1243 1546.2,1242.3 1545.6,1246.6 1544.1,1249.8 1541.4,1250.2 1538.3,1248.8 1537.3,1252.5 1537.7,1260.8 1534.7,1259.6 1534.8,1265.9 1532.3,1266.6 1527.3,1261.7 1527.3,1265.1 1525.5,1265.8 1521.1,1261.6 1518.3,1260.4 1516,1260 1511.7,1258.5 1510.8,1263.3 1508.7,1266.2 1506.4,1269.3 1503,1267.9 1500.1,1268.2 1498,1272 1496.6,1275.3 1495.1,1279 1492.5,1276.3 1490.5,1277.5 1489.9,1283.7 1488,1279.8 1487.7,1280.2 1486.9,1278.9 1485.9,1276.9 1482.4,1270.3 1479.8,1265.7" fill="none" stroke="#000" stroke-width="6.0" stroke-linejoin="round" stroke-linecap="round"/>
<polyline points="1479.8,1265.7 1479.6,1265.3 1478.1,1267.6 1476.5,1268.8 1476.6,1275.1 1475.3,1277.8 1474.2,1281 1472,1279.8 1470.8,1283.7 1469.4,1287.8 1467.2,1288.4 1465.1,1290.2 1465.7,1297.8 1464.2,1295.3 1462.1,1290.3 1460.1,1285.2 1459.4,1286.2 1457.6,1281.5 1455.9,1277.3 1453.2,1280.8 1449.9,1278.5 1447.3,1284.9 1444,1282.4 1440.8,1282.3 1437.5,1281.9 1435,1286.4 1431.9,1287.3 1429.9,1289.3 1427.4,1290.4 1425.4,1293.8 1423.2,1296.6 1420.9,1299.9 1418.3,1294.9 1416,1298.8 1414,1296.3 1412,1293 1410.1,1294.4 1408.2,1293.2 1406,1287.9 1403.2,1287.1 1400.2,1284.3 1397.1,1281.2 1395,1284.1 1392.1,1282.5 1390,1282.9 1388.1,1283.9 1387.1,1289.2 1385.4,1291.6 1383.3,1291.7 1381.7,1294 1381.7,1304 1378,1298.9 1378.8,1308.6 1375.9,1307.8 1374,1305.7 1370.9,1299.4 1370.4,1303.3 1368.3,1302.7 1366.1,1292.3 1364,1294.2 1361.2,1295.6 1358.3,1297 1355.3,1299.5 1352.1,1302.8 1350,1299.8 1347.4,1301 1345,1297 1341.8,1291.2 1339.5,1292 1337.9,1296.5 1335.2,1297.3 1333.2,1300 1329,1297.2 1327.8,1301.4 1324.6,1301.5 1320.8,1298.9 1319.8,1304 1317,1303.5 1316.7,1311.2 1314.6,1313.9 1311.9,1312.7 1309.6,1313.9 1308.6,1320.5 1306,1320 1303.9,1316.8 1302,1314.7 1300.4,1313.6 1298.1,1309.8 1296.9,1309.9 1294.5,1305.7 1292.1,1309 1287.1,1304 1285.7,1310 1281.7,1307.9 1279.7,1313.9 1275.6,1310.4 1275.4,1318.9 1272.6,1315.1 1271.6,1320.3 1268.9,1320.3 1267.5,1323.4 1269.2,1332.7 1266.8,1333.6 1265.4,1331 1264.4,1329.8 1260.2,1320.7 1260.2,1323.8 1258,1317.2 1256.1,1316.1 1253.8,1320.3 1252.6,1320.2 1249.3,1325 1245.9,1328.8 1244.8,1328.2 1241.6,1329.6 1240.6,1324 1238.7,1322.5 1237,1318.6 1235.5,1318 1232.9,1309.5 1231,1306.5 1229.8,1307.2 1227.7,1310.4 1224.3,1308.9 1221.5,1311.6 1222.6,1320.3 1216.5,1317.6 1216.9,1323.1 1217,1327.1 1215.4,1329.1 1213.9,1331.3 1212.5,1333.6 1209.5,1333.8 1212.1,1341.7 1209.3,1341.1 1208.9,1345.1 1208.4,1349.6 1205.8,1341 1204.9,1338.7 1205,1340.6 1202.9,1333.3 1202.5,1334 1201.3,1329.1 1200.5,1324 1199.3,1323.7 1197.8,1322.6 1195.4,1328.3 1195.3,1327.6 1194.1,1329.3 1192.5,1334.7 1191.3,1334.7 1190.3,1340.1 1187.5,1339.8 1184,1337.7 1181.1,1337.4 1177.3,1335.4 1175.8,1338.9 1172.5,1338.3 1168.7,1334.2 1166.1,1336.9 1163.3,1340.4 1160.7,1337.6 1158,1341.3 1155.3,1340.6 1152.2,1338.6 1149.6,1342 1147.6,1339.5 1145.3,1335.9 1143.6,1335.5 1142.2,1337.2 1139.7,1332.1 1138.2,1339.6 1135.7,1341.3 1132.8,1341.2 1130.8,1346.9 1128,1345.5 1125,1345.1 1122.3,1347.5 1118.5,1342.4 1116.6,1345.7 1113.5,1346.1 1111.8,1349.7 1106.9,1346.8 1106.5,1353.4 1105.6,1349.7 1104.5,1343.5 1104,1342.9 1103.1,1341.8 1101.6,1350.7 1100.3,1353.6 1098.5,1356.5 1099.2,1354.9 1098,1358.1 1096.9,1355 1095.5,1352.7 1093.7,1346.5 1093.9,1349.2 1093,1346.9 1091.4,1343.3 1088,1336.4 1087.4,1334.9 1087.6,1341.1 1086.2,1344.2 1079.7,1341.3 1079,1345.3 1080.8,1349.8 1079.5,1352.3 1081.2,1356.7 1079.2,1358.8 1080.2,1362.6 1078.2,1364.9 1079.9,1369.1 1078.1,1371.4 1079,1375.5 1078,1378.1 1079.7,1373.7 1077.7,1371.7 1079.1,1367.7 1078.2,1364.8 1076,1362.9 1075.9,1359.8 1078.3,1354.7 1078,1351.6 1074.8,1351 1077.8,1344.9 1075.2,1344.4 1076.1,1339.8 1072.6,1338.4 1069.7,1337.4 1065.8,1344.9 1063.1,1346.1 1060.1,1345 1057.4,1345.5 1054.1,1345 1052.4,1350 1049.7,1351.5 1047.5,1354.7 1045.2,1357.3 1042.6,1359.3 1038.7,1357 1036.3,1359.6 1032.7,1358.6 1029.6,1358.8 1028,1364.1 1025.6,1364.4 1023.3,1365.3 1019.2,1360.7 1017.1,1362 1014.2,1361.2 1010.8,1358.8 1007.8,1357 1006.1,1359 1004.6,1363.5 1003,1364.4 1001.3,1367.2 1000.4,1367.4 998.3,1372 996.6,1374.7 992.4,1375.7 991.8,1371 988.6,1371.1 992.2,1365 989.1,1363.6 991,1359.7 990.2,1356.8 990.1,1353.8 990.8,1350.6 989.9,1347.6 990.5,1344.5 989.6,1341.5 989.7,1338.4 989.9,1335.4 990.1,1332.3 990.1,1329.3 989.6,1326.2 990.2,1323.1 989,1320.2 989,1317.2 989.7,1314.4 989.3,1317.1 989.1,1320.2 988.7,1323.3 989.4,1326.5 988.9,1329.5 988.7,1332.7 989.4,1335.8 989,1338.9 988.8,1342 988.5,1345.1 988.5,1348.2 989,1351.4 988.9,1354.6 988.7,1357.7 989.5,1361.2 987.1,1363.2 986.3,1365.5 987.4,1369.4 986.6,1369.9 982.9,1365.6 981.7,1371.9 978.9,1372.4 976.2,1373 974.4,1368.3 973,1365.6 971.7,1363.1 970.6,1363.5 968.9,1357.7 967.7,1352.7 966.2,1350.4 964.3,1355.6 963,1357.5 963.3,1357.3 958.4,1365.3 959.3,1364.2 956.1,1370.5 956.3,1368.7 954.6,1365.7 953.3,1368.2 952.4,1365.6 949.1,1355.3 948.9,1357.9 946.9,1352.8 945.4,1350.1 944.1,1348.5 942.6,1353.8 939.9,1350.8 938.1,1356.5 936,1358.1 933.8,1357.2 931.6,1358.4 930.2,1366.4 928.2,1368.4 925.5,1367 924.1,1372 921.5,1372.4 920.3,1372.7 919.1,1373.1 916.5,1368.9 913,1361.6 911.8,1361.9 908.9,1356.3 907.7,1356.6 905.6,1358.4 903.6,1364.8 901.3,1364.7 899,1370.2" fill="none" stroke="#000" stroke-width="6.4" stroke-linejoin="round" stroke-linecap="round"/>
<polyline points="899,1370.2 896.9,1369.5 894.7,1372.5 892.1,1368.2 890.7,1377 888.2,1376.6 886.4,1378.7 883.2,1376.5 879,1371 876.8,1372.2 873.7,1370.2 870.3,1366.4 867.9,1367.1 865.5,1372 863.2,1368.8 860.8,1370.9 858.2,1373.3 855.5,1375.5 853.7,1373.5 850.6,1377.6 847.8,1381.9 846.6,1374.4 845.1,1373.5 843.9,1374.3 842,1367.3 840.3,1363.4 839.1,1362.6 838,1362.1 834.5,1360.9 833.4,1368.7 830.8,1370.4 827.1,1369.2 824,1369.9 822.1,1371.6 820.6,1374.2 819.5,1378.1 818.3,1382.1 816,1381.8 814.9,1386 814.1,1391.7 811.9,1391.7 811.2,1389.2 809.8,1383.2 809.2,1380.8 808.1,1375.2 807.5,1374 806.9,1373 806,1369.3 803,1373.2 800,1372.2 797.2,1369.7 794.2,1378.7 791.1,1377.3 788,1378.3 785.2,1377.9 783.5,1384.1 780.2,1381.7 778.8,1388.3 774.7,1382.8 773.6,1392.1 770.4,1389 767.9,1390.9 765.1,1390.1 762.1,1391.2 759.3,1388.9 757.3,1383 753.6,1385.2 751,1382.9 748.3,1380 746,1382.1 743.7,1377.3 740.8,1377.1 738.1,1373.1 735.3,1372.9 733.1,1375.2 730.2,1371.2 729,1374.6 727.8,1377.7 725.8,1377.2 724.8,1381.4 723.5,1384.5 722.7,1390.1 719.9,1384.5 719.4,1391.5 718.2,1395.2 714.5,1391.8 712.2,1395.9 708.8,1394.7 704.7,1386.9 701.9,1389.3 699.4,1389.2 696.9,1389.2 694,1382 691.2,1384.3 688.5,1381.5 685.9,1378.9 683.5,1378.9 680.3,1384.2 677.6,1387.9 675.5,1382.9 672.7,1387.7 670.3,1391.6 668.4,1392.3 663.3,1384.2 662,1385.9 659.1,1384.4 654.8,1381 655,1383.5 654.9,1387.6 653.7,1389.9 651.4,1389.1 652.3,1396.7 650.5,1395.9 649.3,1396.9 649.5,1403 648.3,1403.7 648.4,1409.9 645,1406.8 642,1406.4 639.2,1402.5 635.9,1403.6 633.1,1399.9 630.2,1398.3 628.4,1393.9 626.3,1392.7 624.2,1391.3 622.4,1386.8 620,1389.2 618.6,1390.4 615.8,1382.7 615.3,1388.1 614.4,1391.2 612.8,1388.8 612.6,1396.4 612.1,1401.6 610,1397.9 610.8,1408.4 609.9,1410.8 607.8,1409.2 606.3,1411.2 602.5,1405.3 600.7,1410 597.9,1406.1 595.2,1403.8 592.5,1400.3 589.9,1398.9 587.2,1397.4 584.8,1400.7 582.1,1393.9 579.3,1399.9 576.7,1395.5 574,1396 572.2,1394.3 570.7,1399.6 569,1402.5 567.2,1400.8 565.7,1409.6 564,1409.3 561.2,1407.5 558.4,1412.2 555.5,1405.2 552.9,1408.2 550,1405 547.1,1402.3 544.3,1404.6 541.4,1402.6 538.6,1401.1 535.6,1402.4 532.8,1396.8 529.9,1395 526.7,1393 524,1398.5 521,1398.6 517.9,1399.4 515,1399.7 512.5,1402.6 509.3,1402.1 506.7,1405.1 503.6,1406.1 502.1,1412.2 498.7,1411.3 496.6,1414.1 492.5,1411 489.4,1410.8 486.5,1411.8 482.9,1406.5 480,1408.3 477.5,1408.8 474.2,1415 471.7,1414.1 468.9,1413.3 466,1418.5 464.6,1414.6 463.9,1415.3 460.9,1406.4 460.4,1406.8 459.5,1405 457.4,1400.6 457.2,1406.8 455.3,1407.5 454,1411.5 453.1,1410.1 451.3,1416.4 449.8,1415.4 448.1,1419.5 448.5,1428.2 445.8,1427.7 444.4,1425.4 444.1,1425 439.5,1417.4 438.1,1415.1 436.2,1411 436,1412 434.2,1417.4 432.1,1415.1 430.7,1415.9 427.3,1422.8 426.6,1421.1 424,1425.6 421.8,1428.7 420.2,1427.9 418.4,1425.6 416.4,1420.5 415,1419.6 413.6,1416.5 411.2,1419.1 410.3,1413 406,1414" fill="none" stroke="#000" stroke-width="6.8" stroke-linejoin="round" stroke-linecap="round"/>
<line x1="989.5" y1="1316" x2="989.5" y2="1372" stroke="#000" stroke-width="9" stroke-linecap="round"/>
</g>
<g id="arrows">
<line x1="764.1" y1="1092.0" x2="842.5" y2="993.2" stroke="#8b8b8b" stroke-width="5.0" stroke-linecap="round"/><polygon points="862.1,968.6 848.6,1012.1 841.2,994.8 822.7,991.6" fill="#8b8b8b" stroke="#8b8b8b" stroke-width="2.5" stroke-linejoin="round"/>
<line x1="1679.0" y1="705.7" x2="1651.1" y2="818.4" stroke="#8b8b8b" stroke-width="5.0" stroke-linecap="round"/><polygon points="1643.6,848.9 1637.8,803.7 1651.6,816.4 1669.8,811.7" fill="#8b8b8b" stroke="#8b8b8b" stroke-width="2.5" stroke-linejoin="round"/>
<line x1="1191.8" y1="1159.6" x2="1305.2" y2="1121.5" stroke="#000" stroke-width="5.0" stroke-linecap="round"/><polygon points="1335.1,1111.5 1300.0,1140.7 1303.3,1122.1 1289.5,1109.4" fill="#000" stroke="#000" stroke-width="2.5" stroke-linejoin="round"/>
<line x1="1639.8" y1="1255.8" x2="1531.0" y2="1313.5" stroke="#000" stroke-width="5.0" stroke-linecap="round"/><polygon points="1503.1,1328.2 1533.0,1293.7 1532.7,1312.5 1548.4,1322.9" fill="#000" stroke="#000" stroke-width="2.5" stroke-linejoin="round"/>
</g>
<g id="axes" stroke="#000" fill="none" stroke-linecap="round">
<path d="M408.3 1463.8V1421.0 M473.7 1463.8V1442.0 M539.0 1463.8V1442.0 M604.4 1463.8V1442.0 M669.8 1463.8V1442.0 M735.2 1463.8V1421.0 M800.5 1463.8V1442.0 M865.9 1463.8V1442.0 M931.3 1463.8V1442.0 M996.6 1463.8V1442.0 M1062.0 1463.8V1421.0 M1127.4 1463.8V1442.0 M1192.7 1463.8V1442.0 M1258.1 1463.8V1442.0 M1323.5 1463.8V1442.0 M1388.9 1463.8V1421.0 M1454.2 1463.8V1442.0 M1519.6 1463.8V1442.0 M1585.0 1463.8V1442.0 M1650.3 1463.8V1442.0 M1715.7 1463.8V1421.0 M375.9 313.7V335.5 M441.3 313.7V335.5 M506.6 313.7V356.5 M571.9 313.7V335.5 M637.3 313.7V335.5 M702.6 313.7V335.5 M768.0 313.7V335.5 M833.3 313.7V356.5 M898.6 313.7V335.5 M964.0 313.7V335.5 M1029.3 313.7V335.5 M1094.7 313.7V335.5 M1160.0 313.7V356.5 M1225.3 313.7V335.5 M1290.7 313.7V335.5 M1356.0 313.7V335.5 M1421.4 313.7V335.5 M1486.7 313.7V356.5 M1552.0 313.7V335.5 M1617.4 313.7V335.5 M1682.7 313.7V335.5 M1748.1 313.7V335.5 M343.5 1391.9H365.3 M1781.2 1391.9H1759.4 M343.5 1320.0H386.3 M1781.2 1320.0H1738.4 M343.5 1248.2H365.3 M1781.2 1248.2H1759.4 M343.5 1176.3H365.3 M1781.2 1176.3H1759.4 M343.5 1104.4H365.3 M1781.2 1104.4H1759.4 M343.5 1032.5H365.3 M1781.2 1032.5H1759.4 M343.5 960.6H386.3 M1781.2 960.6H1738.4 M343.5 888.8H365.3 M1781.2 888.8H1759.4 M343.5 816.9H365.3 M1781.2 816.9H1759.4 M343.5 745.0H365.3 M1781.2 745.0H1759.4 M343.5 673.1H365.3 M1781.2 673.1H1759.4 M343.5 601.2H386.3 M1781.2 601.2H1738.4 M343.5 529.3H365.3 M1781.2 529.3H1759.4 M343.5 457.5H365.3 M1781.2 457.5H1759.4 M343.5 385.6H365.3 M1781.2 385.6H1759.4" stroke-width="5.8"/>
<rect x="343.5" y="313.7" width="1437.7" height="1150.1" stroke-width="6.6" stroke-linejoin="round"/>
</g>
<g id="ticklabels">
<text transform="translate(506.6 266.8) scale(1 1.020)" class="tk" text-anchor="middle">-0.5</text>
<text transform="translate(833.3 266.8) scale(1 1.020)" class="tk" text-anchor="middle">0.0</text>
<text transform="translate(1160.0 266.8) scale(1 1.020)" class="tk" text-anchor="middle">0.5</text>
<text transform="translate(1423.7 266.8) scale(1 1.020)" class="tk" style="font-size:95px;" clip-path="url(#cr95)">1</text>
<text transform="translate(1473.5 266.8) scale(1 1.020)" class="tk">.0</text>
<text transform="translate(408.3 1582.8) scale(1 1.020)" class="tk" text-anchor="middle">2.5</text>
<text transform="translate(735.2 1582.8) scale(1 1.020)" class="tk" text-anchor="middle">3.0</text>
<text transform="translate(1062.0 1582.8) scale(1 1.020)" class="tk" text-anchor="middle">3.5</text>
<text transform="translate(1388.9 1582.8) scale(1 1.020)" class="tk" text-anchor="middle">4.0</text>
<text transform="translate(1715.7 1582.8) scale(1 1.020)" class="tk" text-anchor="middle">4.5</text>
<text transform="translate(319.8 1346.3) scale(1 1.030)" class="tky" text-anchor="end">0</text>
<text transform="translate(319.8 986.9) scale(1 1.030)" class="tky" text-anchor="end">5</text>
<text transform="translate(219.3 627.5) scale(1 1.030)" class="tky" style="font-size:93px;" clip-path="url(#cr93)">1</text>
<text transform="translate(268.1 627.5) scale(1 1.030)" class="tky">0</text>
</g>
<g id="titles">
<text transform="translate(866.5 88.5) scale(1 1.040)" class="ti it">E</text>
<text transform="translate(944.0 129.0) scale(1 0.985)" class="sb">disc</text>
<text transform="translate(1070.5 88.5) scale(1 0.990)" class="ti">/</text>
<text transform="translate(1102.0 88.5) scale(1 1.040)" class="ti">V</text>
<text x="1182.0" y="129.0" class="sb">Fc</text>
<text transform="translate(879.0 1753.0) scale(1 1.040)" class="ti it">E</text>
<text transform="translate(955.5 1793.5) scale(1 0.985)" class="sb">disc</text>
<text transform="translate(1083.0 1753.0) scale(1 0.990)" class="ti">/</text>
<text transform="translate(1113.5 1753.0) scale(1 1.040)" class="ti">V</text>
<text x="1192.5" y="1793.5" class="sb">Li</text>
<g transform="translate(112.2 1240) rotate(-90)">
<text transform="translate(2.5 0.0) scale(1 0.990)" class="ti it">i</text>
<text transform="translate(31.0 44.5) scale(1 0.985)" class="sb">disc</text>
<text transform="translate(155.5 0.0) scale(1 0.970)" class="ti">/</text>
<text transform="translate(189.2 0) scale(1 0.98)" class="ti" style="font-family:'WenQuanYi Zen Hei','Liberation Sans',sans-serif">µ</text>
<text transform="translate(256.0 0.0) scale(1 1.040)" class="ti">A</text>
<text transform="translate(368.3 0.0) scale(1 0.985)" class="ti">cm</text>
<text x="523.0" y="-56.5" class="sb">-2</text>
<text transform="translate(522.5 42.5) scale(1 0.985)" class="sb">geom</text>
</g>
</g>
<g id="labels">
<text transform="translate(1070.0 667.0) scale(1 1.020)" class="lb" style="font-size:86px;fill:#8b8b8b;" clip-path="url(#cb86)">1</text>
<text x="1114.5" y="623.5" class="lbs" style="font-size:51.5px;fill:#8b8b8b">st</text>
<text x="1182.5" y="667.0" class="lb" style="font-size:84.5px;fill:#8b8b8b">scan</text>
<text transform="translate(1258.0 993.5) scale(1 1.020)" class="lb">2</text>
<text x="1306.5" y="950.0" class="lbs" style="font-size:48.5px">nd</text>
<text x="1390.5" y="993.5" class="lb" style="font-size:84.5px">scan</text>
</g>
</g>
</svg></body></html>
